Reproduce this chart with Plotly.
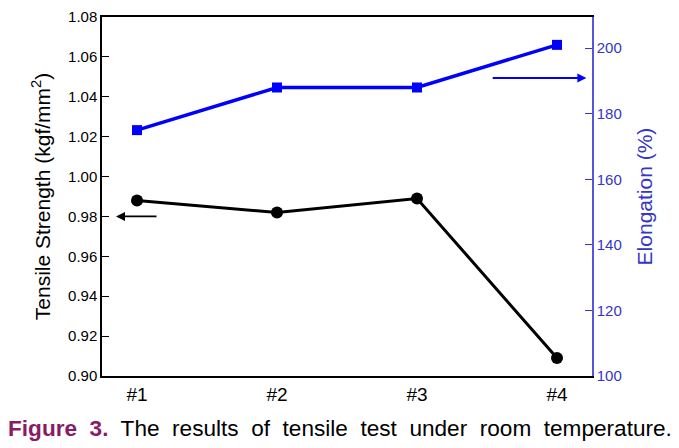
import plotly.graph_objects as go

samples = ["#1", "#2", "#3", "#4"]
sample_pos = [1, 2, 3, 4]
tensile_strength = [0.988, 0.982, 0.989, 0.909]
elongation = [175, 188, 188, 201]
left_ticks = [0.90, 0.92, 0.94, 0.96, 0.98, 1.00, 1.02, 1.04, 1.06, 1.08]
right_ticks = [100, 120, 140, 160, 180, 200]

BLUE = "#0000ff"
AXBLUE = "#3535c8"

fig = go.Figure()
fig.add_trace(go.Scatter(x=sample_pos, y=tensile_strength, mode="lines+markers",
                         line=dict(color="black", width=3),
                         marker=dict(symbol="circle", size=12, color="black"),
                         showlegend=False))
fig.add_trace(go.Scatter(x=sample_pos, y=elongation, mode="lines+markers", yaxis="y2",
                         line=dict(color=BLUE, width=3.5),
                         marker=dict(symbol="square", size=10, color=BLUE),
                         showlegend=False))

# direction arrows
fig.add_annotation(x=0.85, y=0.98, ax=1.15, ay=0.98, xref="x", yref="y",
                   axref="x", ayref="y", showarrow=True, arrowhead=2, arrowsize=1,
                   arrowwidth=1.8, arrowcolor="black", text="")
fig.add_annotation(x=4.21, y=190.9, ax=3.53, ay=190.9, xref="x", yref="y2",
                   axref="x", ayref="y2", showarrow=True, arrowhead=2, arrowsize=1,
                   arrowwidth=1.8, arrowcolor=BLUE, text="")

sp = "&nbsp; "
caption = ('<b><span style="color:#8b1a66">Figure' + sp + '3.</span></b>' + sp +
           sp.join(["The", "results", "of", "tensile", "test", "under", "room", "temperature."]))
fig.add_annotation(x=0.486, y=-0.145, xref="paper", yref="paper", showarrow=False,
                   xanchor="center", yanchor="middle", text=caption,
                   font=dict(family="Liberation Sans, Arial", size=22.6, color="black"))

fig.update_layout(
    width=679, height=448,
    margin=dict(l=94, r=95, t=9, b=80, autoexpand=False),
    paper_bgcolor="white", plot_bgcolor="white",
    font=dict(family="Liberation Sans, Arial", color="black"),
    xaxis=dict(range=[0.75, 4.25], tickvals=sample_pos, ticktext=samples,
               showgrid=False, zeroline=False, showline=True, linecolor="black",
               linewidth=1.5, mirror=True, ticks="", automargin=False,
               tickfont=dict(size=19, color="black")),
    yaxis=dict(range=[0.90, 1.08], tickvals=left_ticks, tickformat=".2f",
               showgrid=False, zeroline=False, showline=True, linecolor="black",
               linewidth=1.5, ticks="inside", ticklen=7, tickcolor="black", automargin=False,
               tickfont=dict(size=15, color="black"),
               title=dict(text="Tensile Strength (kgf/mm<sup>2</sup>)",
                          font=dict(size=21, color="black"), standoff=12)),
    yaxis2=dict(range=[100, 209.5], tickvals=right_ticks, overlaying="y", side="right",
                showgrid=False, zeroline=False, showline=True, linecolor="#5555dd",
                linewidth=1.5, ticks="inside", ticklen=7, tickcolor=AXBLUE, automargin=False,
                tickfont=dict(size=15, color=AXBLUE),
                title=dict(text="Elongation (%)", font=dict(size=21, color=AXBLUE), standoff=17)),
)

fig.write_html("out.html")
